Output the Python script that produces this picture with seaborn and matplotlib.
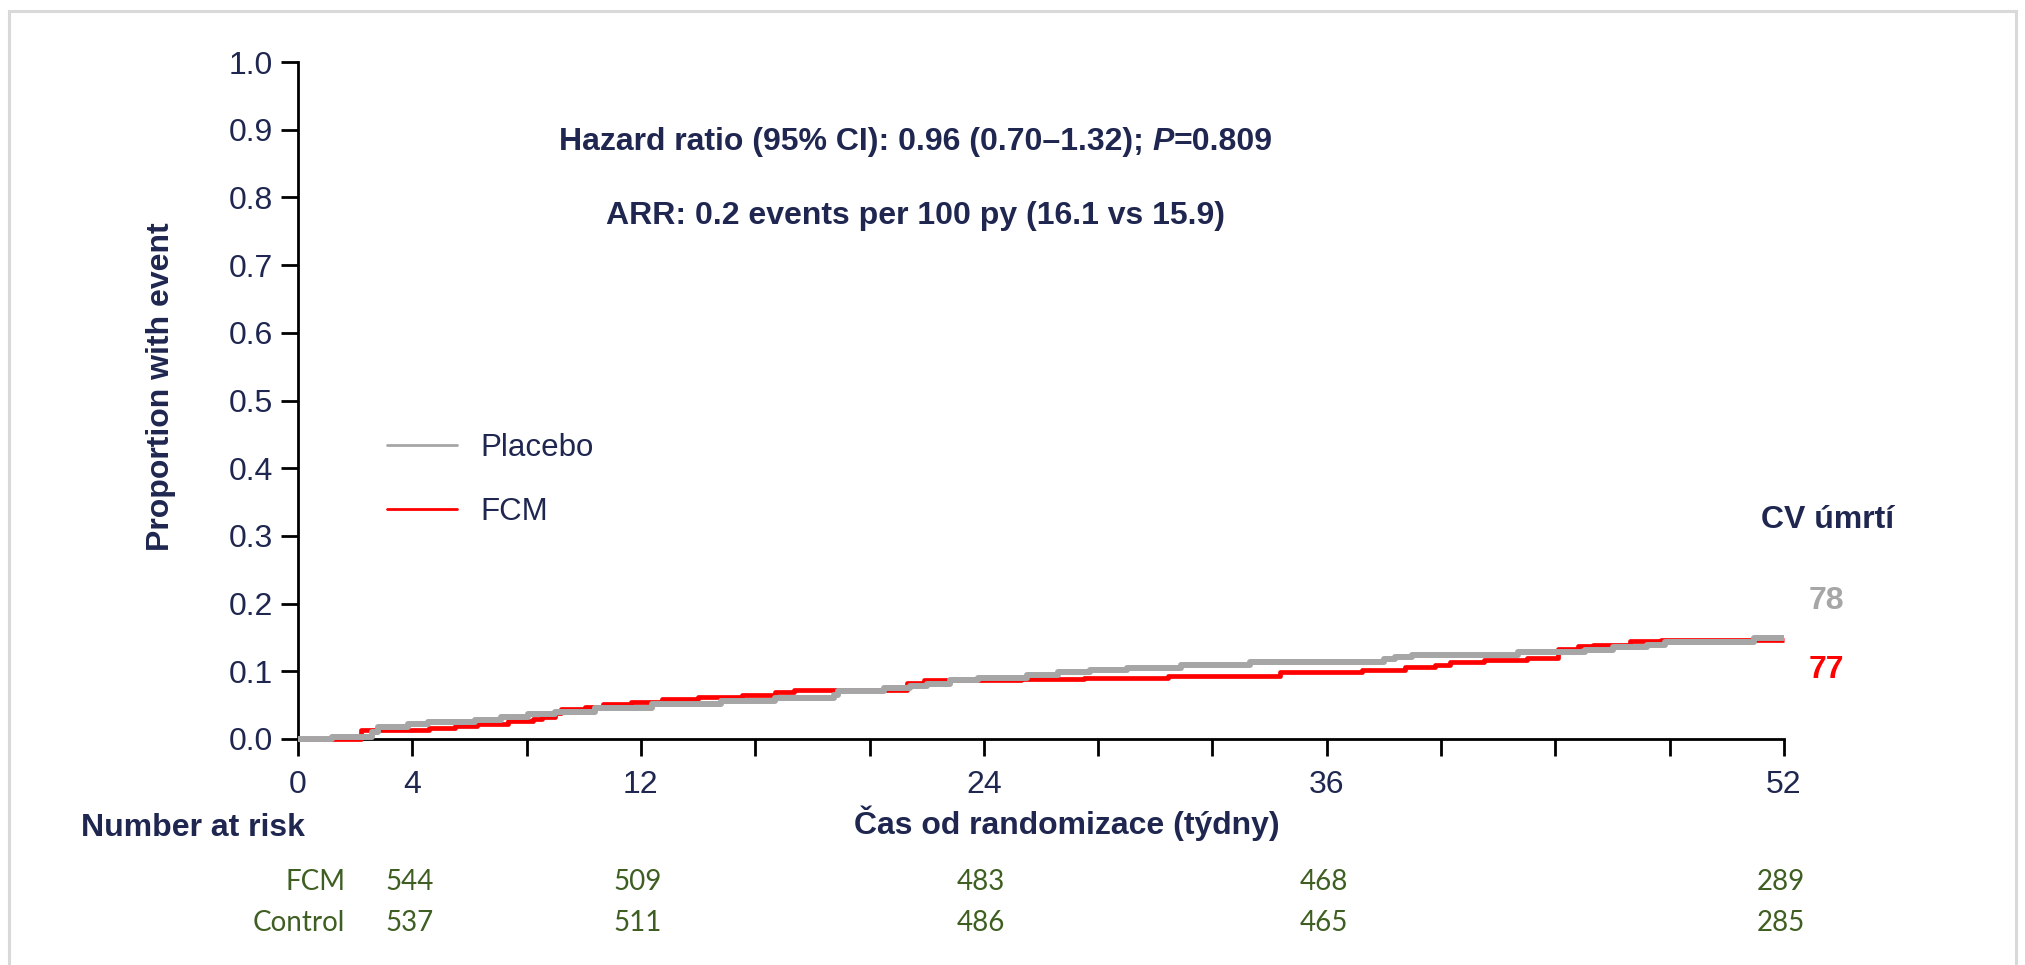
import numpy as np
import pandas as pd
import matplotlib
matplotlib.use("Agg")
import matplotlib.pyplot as plt
import matplotlib.transforms as mtransforms
from matplotlib.lines import Line2D
from matplotlib.patches import Rectangle
import seaborn as sns

# Cumulative proportion with event (step curves), time in weeks
placebo_weeks = [0, 1.2, 2.6, 2.8, 3.85, 4.55, 6.2, 7.1, 8.05, 9.0,
                 10.4, 12.4, 14.8, 16.7, 18.75, 18.9, 20.5, 21.4, 22.0, 22.8,
                 23.8, 25.5, 26.6, 27.7, 29.0, 30.9, 33.3, 38.0, 38.4, 39.0,
                 42.7, 45.05, 46.0, 47.2, 47.85, 50.95, 52]
placebo_prop = [0, 0.0035, 0.010, 0.0173, 0.0217, 0.0246, 0.0286, 0.0325, 0.0365, 0.0405,
                0.0464, 0.0523, 0.0562, 0.0600, 0.065, 0.071, 0.0754, 0.0784, 0.0808, 0.0872,
                0.0907, 0.0951, 0.0985, 0.1024, 0.1055, 0.1094, 0.1136, 0.1178, 0.1207, 0.1247,
                0.1284, 0.132, 0.136, 0.1394, 0.1434, 0.1498, 0.1498]

fcm_weeks = [0, 2.2, 4.6, 5.5, 6.25, 7.35, 8.23, 8.55, 9.0, 9.2,
             10.04, 10.68, 11.67, 12.73, 14.0, 15.53, 16.7, 17.35, 21.3, 21.9,
             25.3, 27.5, 30.45, 34.38, 37.23, 38.75, 39.8, 40.3, 41.5, 43.0,
             44.1, 44.8, 45.3, 46.6, 47.68, 52]
fcm_prop = [0, 0.0129, 0.0158, 0.0187, 0.0227, 0.026, 0.0295, 0.0325, 0.038, 0.044,
            0.048, 0.0512, 0.0553, 0.0595, 0.0621, 0.0656, 0.0696, 0.073, 0.0833, 0.0867,
            0.0880, 0.0907, 0.0936, 0.0985, 0.102, 0.106, 0.1094, 0.1133, 0.1162, 0.1202,
            0.1336, 0.1374, 0.1394, 0.1443, 0.1466, 0.1466]

group_labels = ["Placebo", "FCM"]
event_counts = {"Placebo": 78, "FCM": 77}

x_ticks = list(range(0, 53, 4))
x_labelled = [0, 4, 12, 24, 36, 52]
y_ticks = [round(0.1 * i, 1) for i in range(11)]

risk_weeks = [4, 12, 24, 36, 52]
risk_rows = ["FCM", "Control"]
fcm_at_risk = [544, 509, 483, 468, 289]
control_at_risk = [537, 511, 486, 465, 285]

hr_text = "Hazard ratio (95% CI): 0.96 (0.70\u20131.32); "
hr_p = "P"
hr_p_value = "=0.809"
arr_text = "ARR: 0.2 events per 100 py (16.1 vs 15.9)"
endpoint_title = "CV úmrtí"

NAVY = "#1f2750"
GREEN = "#3f5f22"
GRAY = "#a6a6a6"
RED = "#ff0000"

sns.set_style("white")
plt.rcParams["font.family"] = ["Liberation Sans", "DejaVu Sans"]

W, H = 2025, 965
fig = plt.figure(figsize=(W / 100, H / 100), dpi=100)
ax = fig.add_axes([298 / W, 1 - 739 / H, (1784 - 298) / W, (739 - 62) / H])

fcm_df = pd.DataFrame({"week": fcm_weeks, "prop": fcm_prop})
placebo_df = pd.DataFrame({"week": placebo_weeks, "prop": placebo_prop})

sns.lineplot(data=fcm_df, x="week", y="prop", ax=ax, estimator=None, legend=False,
             drawstyle="steps-post", color=RED, linewidth=3.4,
             solid_capstyle="butt", zorder=3, clip_on=False)
sns.lineplot(data=placebo_df, x="week", y="prop", ax=ax, estimator=None, legend=False,
             drawstyle="steps-post", color=GRAY, linewidth=4.3,
             solid_capstyle="butt", zorder=4, clip_on=False)

ax.set_xlim(0, 52)
ax.set_ylim(0, 1)
ax.set_xticks(x_ticks)
ax.set_xticklabels([str(t) if t in x_labelled else "" for t in x_ticks])
ax.set_yticks(y_ticks)
ax.set_yticklabels([f"{v:.1f}" for v in y_ticks])
ax.set_xlabel("")
ax.set_ylabel("")
for side in ("top", "right"):
    ax.spines[side].set_visible(False)
for side in ("left", "bottom"):
    ax.spines[side].set_color("black")
    ax.spines[side].set_linewidth(2)
ax.tick_params(axis="both", direction="out", length=12, width=2, color="black",
               labelcolor=NAVY, labelsize=23, bottom=True, left=True)
ax.tick_params(axis="x", pad=10)
ax.tick_params(axis="y", pad=6)

# axis titles
fig.text(161 / W, 1 - 387 / H, "Proportion with event", rotation=90, ha="center",
         va="center", fontsize=23, fontweight="bold", color=NAVY)
fig.text(1067 / W, 1 - 823 / H, "Čas od randomizace (týdny)", ha="center",
         va="center", fontsize=23, fontweight="bold", color=NAVY)

# legend
handles = [Line2D([], [], color=GRAY, lw=2), Line2D([], [], color=RED, lw=2)]
ax.legend(handles, group_labels, loc="upper left", bbox_to_anchor=(387 / W, 1 - 433 / H),
          bbox_transform=fig.transFigure, frameon=False, fontsize=22.5,
          handlelength=2.25, handletextpad=0.75, labelspacing=1.08,
          borderpad=0, borderaxespad=0, labelcolor=NAVY)

# hazard ratio line with italic P, centred as a whole
fig.canvas.draw()
renderer = fig.canvas.get_renderer()
hr_parts = [(hr_text, "normal"), (hr_p, "italic"), (hr_p_value, "normal")]
hr_y = 1 - 142 / H
tmp = [fig.text(0, hr_y, s, fontsize=23, fontweight="bold", style=st, color=NAVY,
                va="center", ha="left") for s, st in hr_parts]
widths = [t.get_window_extent(renderer).width for t in tmp]
x0 = 916 - sum(widths) / 2
for t, w in zip(tmp, widths):
    t.set_x(x0 / W)
    x0 += w

fig.text(916 / W, 1 - 216 / H, arr_text, ha="center", va="center", fontsize=23,
         fontweight="bold", color=NAVY)

# event counts at end of follow-up
fig.text(1828 / W, 1 - 520 / H, endpoint_title, ha="center", va="center",
         fontsize=23, fontweight="bold", color=NAVY)
fig.text(1826 / W, 1 - 601 / H, str(event_counts["Placebo"]), ha="center",
         va="center", fontsize=23, fontweight="bold", color=GRAY)
fig.text(1826 / W, 1 - 670 / H, str(event_counts["FCM"]), ha="center",
         va="center", fontsize=23, fontweight="bold", color=RED)

# number at risk table
fig.text(81 / W, 1 - 828 / H, "Number at risk", ha="left", va="center",
         fontsize=23, fontweight="bold", color=NAVY)
risk_tr = mtransforms.blended_transform_factory(ax.transData, fig.transFigure)
for row_name, counts, ypix in zip(risk_rows, [fcm_at_risk, control_at_risk], [882, 923]):
    fig.text(345 / W, 1 - ypix / H, row_name, ha="right", va="center",
             fontsize=20, family="Lato", color=GREEN)
    for wk, n in zip(risk_weeks, counts):
        ax.text(wk - 0.1, 1 - ypix / H, str(n), transform=risk_tr, ha="center",
                va="center", fontsize=20, family="Lato", color=GREEN, clip_on=False)

# light outer frame
fig.add_artist(Rectangle((9 / W, -0.05), (2016 - 9) / W, 1.05 - 11 / H,
                         transform=fig.transFigure, fill=False,
                         edgecolor="#d9d9d9", linewidth=2.2))

fig.savefig("out.png", dpi=100)
